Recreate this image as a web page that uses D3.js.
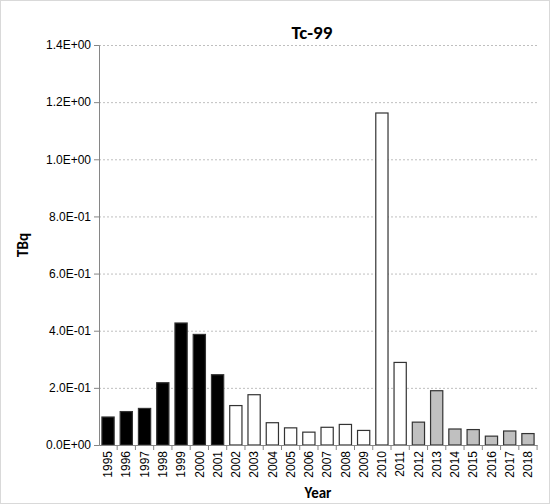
<!DOCTYPE html>
<html><head><meta charset="utf-8">
<script src="https://cdn.jsdelivr.net/npm/d3@7"></script>
<style>body{margin:0;background:#fff}</style>
</head><body>
<script>
// Tc-99 discharges by year
const years = d3.range(1995, 2019).map(String);
const values = [0.098,0.117,0.128,0.218,0.427,0.387,0.246,0.138,0.176,0.078,0.060,0.045,0.062,0.072,0.051,1.162,0.289,0.080,0.190,0.056,0.054,0.031,0.049,0.040];
const yTicks = [0,0.2,0.4,0.6,0.8,1.0,1.2,1.4];

function fillFor(y) {
  if (+y <= 2001) return "#000";
  if (+y <= 2011) return "#fff";
  return "#c0c0c0";
}

const W = 550, H = 504;
const m = {left: 99, right: 13, top: 45, bottom: 59};
const svg = d3.select("body").append("svg").attr("width", W).attr("height", H)
  .style("font-family", "Calibri, Carlito, 'Liberation Sans', sans-serif");

svg.append("rect").attr("x", 0.5).attr("y", 0.5).attr("width", W - 1).attr("height", H - 1)
  .attr("fill", "#fff").attr("stroke", "#d9d9d9");

const x = d3.scaleBand().domain(years).range([m.left, W - m.right]).paddingInner(0.33).paddingOuter(0.16);
const y = d3.scaleLinear().domain([0, 1.4]).range([H - m.bottom, m.top]);

// gridlines
svg.append("g").selectAll("line").data(yTicks.slice(1)).join("line")
  .attr("x1", m.left).attr("x2", W - m.right)
  .attr("y1", d => y(d) + 0.5).attr("y2", d => y(d) + 0.5)
  .attr("stroke", "#bfbfbf").attr("stroke-dasharray", "2,2");

svg.append("g").selectAll("rect").data(values).join("rect")
  .attr("x", (d, i) => x(years[i]))
  .attr("y", d => y(d))
  .attr("width", x.bandwidth())
  .attr("height", d => y(0) - y(d))
  .attr("fill", (d, i) => fillFor(years[i]))
  .attr("stroke", "#333").attr("stroke-width", 1.2);

const yAxis = svg.append("g").attr("transform", `translate(${m.left},0)`)
  .call(d3.axisLeft(y).tickValues(yTicks).tickSize(5)
    .tickFormat(d => d === 0 ? "0.0E+00" : d3.format(".1e")(d).replace(/e([+-])(\d)$/, "E$10$2").replace("e", "E")));
yAxis.selectAll("text").attr("font-size", 12).attr("fill", "#000");
yAxis.selectAll("line,path").attr("stroke", "#868686");

const xAxis = svg.append("g").attr("transform", `translate(0,${y(0)})`)
  .call(d3.axisBottom(x).tickSize(0));
xAxis.select("path").attr("stroke", "#868686");
xAxis.selectAll(".tick line").remove();
xAxis.selectAll(".tick").append("line")
  .attr("x1", x.step() / 2).attr("x2", x.step() / 2).attr("y2", 5).attr("stroke", "#868686");
xAxis.selectAll("text").attr("font-size", 12).attr("fill", "#000")
  .attr("transform", "rotate(-90)").attr("text-anchor", "end")
  .attr("x", -6).attr("y", 0).attr("dy", "0.35em");

svg.append("text").attr("x", 312).attr("y", 39).attr("text-anchor", "middle")
  .attr("font-size", 19).attr("font-weight", "bold").text("Tc-99");
svg.append("text").attr("x", 318).attr("y", 498).attr("text-anchor", "middle")
  .attr("font-size", 15).attr("font-weight", "bold").text("Year");
svg.append("text").attr("transform", "translate(28,245) rotate(-90)").attr("text-anchor", "middle")
  .attr("font-size", 15).attr("font-weight", "bold").text("TBq");
</script>
</body></html>
